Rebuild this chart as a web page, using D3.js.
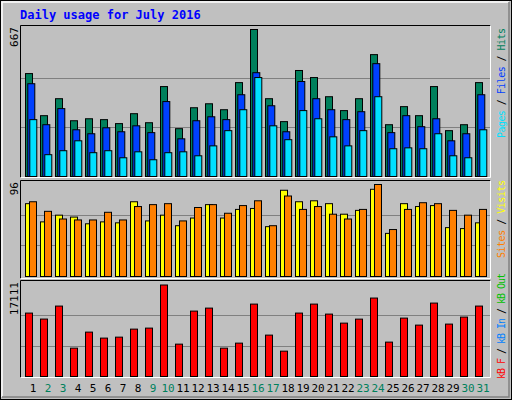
<!DOCTYPE html><html><head><meta charset="utf-8">
<script src="https://cdn.jsdelivr.net/npm/d3@7"></script>
<style>body{margin:0;background:#fff}</style></head><body><svg id="c" width="512" height="400"></svg>
<script>
const days = d3.range(1,32);
const weekends = [2,3,9,10,16,17,23,24,30,31];
const hits  = [467,276,353,253,262,258,240,285,244,408,217,312,330,303,426,667,353,249,481,449,362,299,353,553,235,317,276,408,208,235,426];
const files = [421,235,308,212,194,221,203,230,199,340,171,253,271,258,371,471,321,203,431,353,303,258,294,512,199,276,226,262,162,194,371];
const pages = [258,99,117,162,108,117,85,112,76,108,112,94,139,208,303,449,230,167,299,262,180,139,208,362,126,130,126,194,94,85,212];
const visits= [76,57,64,62,55,57,56,78,58,64,53,61,75,61,70,71,52,90,78,79,76,65,69,91,45,76,73,74,51,50,56];
const sites = [78,68,60,59,59,67,59,73,75,76,58,72,75,66,74,79,53,84,70,73,65,60,70,96,49,70,77,76,69,64,70];
const kbytes= [11860,10740,13170,5300,8300,7180,7360,8860,9050,17111,6050,12230,12790,5300,6240,13540,7740,4740,11860,13540,11670,9980,10730,14670,6430,10920,9610,13730,9800,11110,13170];
const maxLabels = ["667","96","17111"];

const svg=d3.select("#c");
const font="DejaVu Sans Mono, monospace";
svg.append("rect").attr("x",0).attr("y",0).attr("width",512).attr("height",400).attr("fill","#c0c0c0");
svg.append("rect").attr("x",0.5).attr("y",0.5).attr("width",511).attr("height",399).attr("fill","none").attr("stroke","#000");
svg.append("path").attr("d","M2,397V2H509").attr("fill","none").attr("stroke","#fff").attr("stroke-width",1.5);
svg.append("path").attr("d","M2,397H509V2").attr("fill","none").attr("stroke","#808080").attr("stroke-width",1.5);
svg.append("text").attr("x",20).attr("y",19).attr("fill","#0000ff").attr("font-family",font).attr("font-weight","bold").attr("font-size",12).text("Daily usage for July 2016");

const x=d3.scaleLinear().domain([1,31]).range([25,475]);
const panels=[{top:25,bot:178,base:176,maxY:29,max:667},{top:180,bot:279,base:276,maxY:184,max:96},{top:280,bot:378,base:376,maxY:284.5,max:17111}];
panels.forEach((p,i)=>{
  svg.append("rect").attr("x",20.5).attr("y",p.top+.5).attr("width",470).attr("height",p.bot-p.top-1).attr("fill","#c0c0c0");
  svg.append("path").attr("d",`M20.5,${p.bot-.5}V${p.top+.5}H490.5`).attr("stroke","#000").attr("fill","none");
  svg.append("path").attr("d",`M20.5,${p.bot-.5}H490.5V${p.top+.5}`).attr("stroke","#fff").attr("fill","none");
  p.y=d3.scaleLinear().domain([0,p.max]).range([p.base,p.maxY]);
  [1/3,2/3].forEach(f=>{const yy=Math.round(p.y(p.max*f))+.5;
    svg.append("line").attr("x1",21).attr("x2",490).attr("y1",yy).attr("y2",yy).attr("stroke","#808080");});
  svg.append("text").attr("transform",`translate(18,${p.top+2}) rotate(-90)`).attr("text-anchor","end")
    .attr("font-family",font).attr("font-size",11).attr("fill","#000").text(maxLabels[i]);
});
function bars(p,data,off,w,color){
  svg.append("g").selectAll("rect").data(data).join("rect")
   .attr("x",(d,i)=>x(i+1)+off+.5).attr("y",d=>p.y(d)+.5).attr("width",w).attr("height",d=>p.base-p.y(d))
   .attr("fill",color).attr("stroke","#000").attr("stroke-width",1);
}
bars(panels[0],hits,0,7,"#00805c");
bars(panels[0],files,2.3,7,"#0040ff");
bars(panels[0],pages,4.3,7,"#00e0ff");
bars(panels[1],visits,0,7,"#ffff00");
bars(panels[1],sites,4,7,"#ff8000");
bars(panels[2],kbytes,0,7,"#ff0000");

function legend(yEnd,len,parts){
  const t=svg.append("text").attr("transform",`translate(505,${yEnd}) rotate(-90)`).attr("font-family",font).attr("font-size",10)
    .attr("textLength",len).attr("lengthAdjust","spacing");
  parts.forEach(([s,c])=>t.append("tspan").attr("fill",c).text(s));
}
legend(138,110,[["Pages","#00e0ff"],[" / ","#000"],["Files","#0040ff"],[" / ","#000"],["Hits","#00805c"]]);
legend(258,78,[["Sites","#ff8000"],[" / ","#000"],["Visits","#ffff00"]]);
legend(379,106,[["kB F","#ff0000"],[" / ","#000"],["kB In","#0080ff"],[" / ","#000"],["kB Out","#00c000"]]);

svg.append("g").selectAll("text").data(days).join("text")
  .attr("x",d=>x(d)+8).attr("y",392).attr("text-anchor","middle").attr("font-family",font).attr("font-size",11)
  .attr("fill",d=>weekends.includes(d)?"#00805c":"#000").text(d=>d);
</script></body></html>
